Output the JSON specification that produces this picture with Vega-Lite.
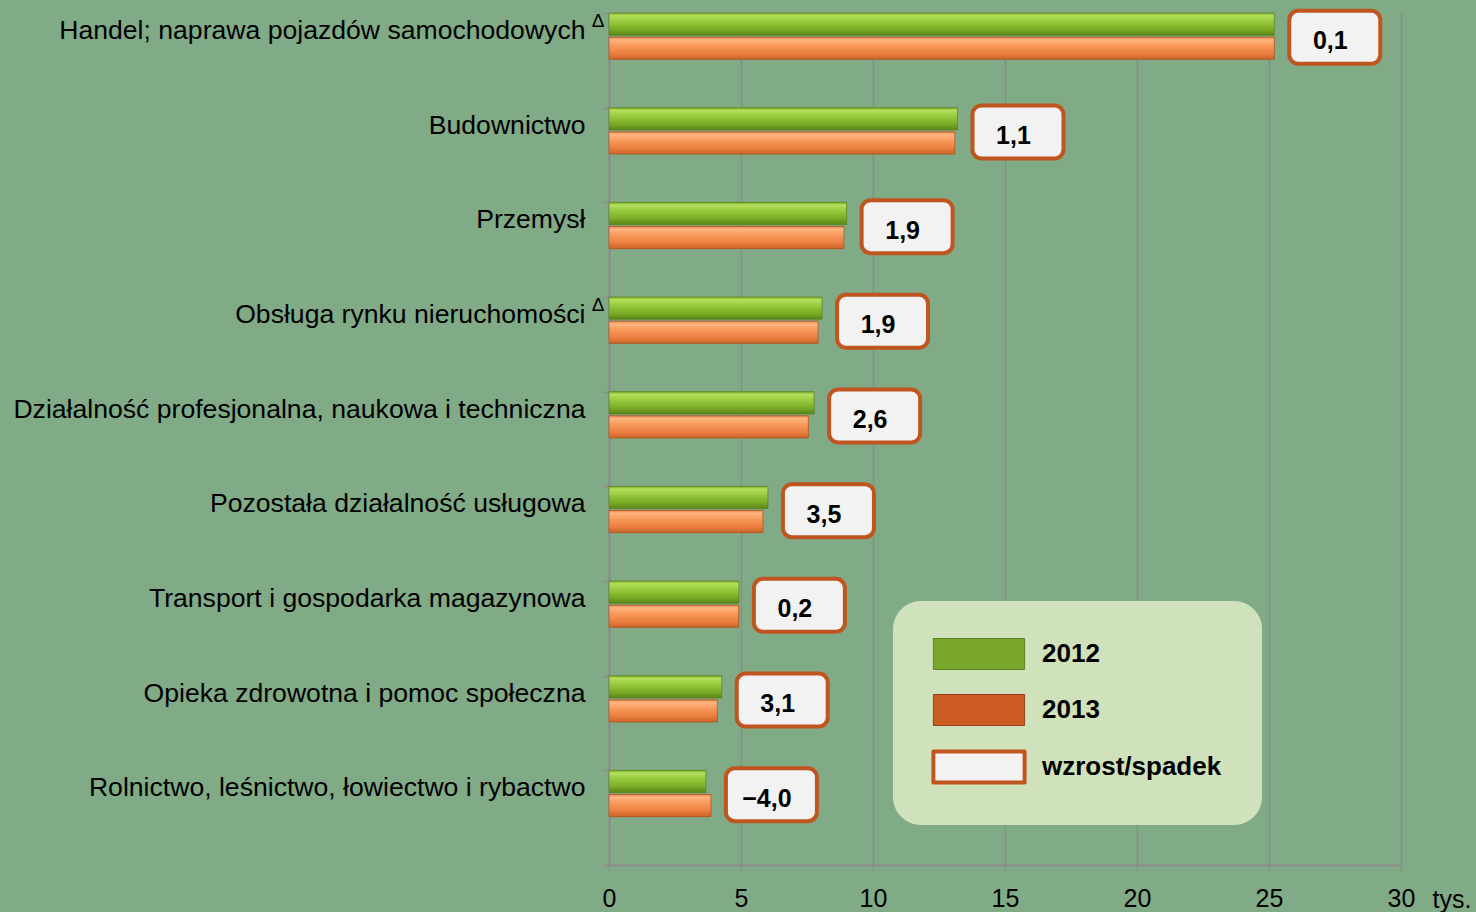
{
  "$schema": "https://vega.github.io/schema/vega-lite/v6.json",
  "width": 792,
  "height": 852,
  "autosize": {"type": "none"},
  "padding": {"left": 609, "top": 13, "right": 75, "bottom": 47},
  "background": "#81aa87",
  "config": {"view": {"stroke": null}, "font": "Liberation Sans"},
  "data": {"values": [
    {"cat": "Handel; naprawa pojazdów samochodowych", "year": "2012", "value": 25.2, "change": "0,1", "sup": "Δ"},
    {"cat": "Handel; naprawa pojazdów samochodowych", "year": "2013", "value": 25.2, "change": "0,1", "sup": "Δ"},
    {"cat": "Budownictwo", "year": "2012", "value": 13.2, "change": "1,1", "sup": ""},
    {"cat": "Budownictwo", "year": "2013", "value": 13.1, "change": "1,1", "sup": ""},
    {"cat": "Przemysł", "year": "2012", "value": 9.0, "change": "1,9", "sup": ""},
    {"cat": "Przemysł", "year": "2013", "value": 8.9, "change": "1,9", "sup": ""},
    {"cat": "Obsługa rynku nieruchomości", "year": "2012", "value": 8.07, "change": "1,9", "sup": "Δ"},
    {"cat": "Obsługa rynku nieruchomości", "year": "2013", "value": 7.92, "change": "1,9", "sup": "Δ"},
    {"cat": "Działalność profesjonalna, naukowa i techniczna", "year": "2012", "value": 7.77, "change": "2,6", "sup": ""},
    {"cat": "Działalność profesjonalna, naukowa i techniczna", "year": "2013", "value": 7.55, "change": "2,6", "sup": ""},
    {"cat": "Pozostała działalność usługowa", "year": "2012", "value": 6.02, "change": "3,5", "sup": ""},
    {"cat": "Pozostała działalność usługowa", "year": "2013", "value": 5.83, "change": "3,5", "sup": ""},
    {"cat": "Transport i gospodarka magazynowa", "year": "2012", "value": 4.92, "change": "0,2", "sup": ""},
    {"cat": "Transport i gospodarka magazynowa", "year": "2013", "value": 4.91, "change": "0,2", "sup": ""},
    {"cat": "Opieka zdrowotna i pomoc społeczna", "year": "2012", "value": 4.27, "change": "3,1", "sup": ""},
    {"cat": "Opieka zdrowotna i pomoc społeczna", "year": "2013", "value": 4.1, "change": "3,1", "sup": ""},
    {"cat": "Rolnictwo, leśnictwo, łowiectwo i rybactwo", "year": "2012", "value": 3.67, "change": "−4,0", "sup": ""},
    {"cat": "Rolnictwo, leśnictwo, łowiectwo i rybactwo", "year": "2013", "value": 3.86, "change": "−4,0", "sup": ""}
  ]},
  "encoding": {
    "y": {
      "field": "cat", "type": "nominal", "sort": null,
      "scale": {"paddingInner": 0, "paddingOuter": 0},
      "axis": {
        "title": null, "labelFontSize": 26.6, "labelLimit": 800, "labelColor": "#000000",
        "domainColor": "#8c8c8c", "domainWidth": 2, "tickColor": "#8c8c8c", "tickWidth": 1.5,
        "tickSize": 7, "tickBand": "extent", "labelPadding": 17,
        "labelBaseline": "alphabetic", "labelOffset": -22, "grid": false
      }
    }
  },
  "layer": [
    {
      "mark": {"type": "bar"},
      "encoding": {
        "x": {
          "field": "value", "type": "quantitative",
          "scale": {"domain": [0, 30], "nice": false},
          "axis": {
            "values": [0, 5, 10, 15, 20, 25, 30], "grid": true, "gridColor": "#868e88", "gridWidth": 1.5,
            "domainColor": "#8c8c8c", "domainWidth": 2, "tickColor": "#8c8c8c", "tickWidth": 1.5, "tickSize": 7,
            "labelFontSize": 25, "labelColor": "#000000", "labelPadding": 14, "labelFlush": false,
            "title": "tys.", "titleFontWeight": "normal", "titleFontSize": 25, "titleColor": "#000000",
            "titleX": 823, "titleY": 42, "titleAlign": "left", "titleBaseline": "alphabetic", "titleAngle": 0
          }
        },
        "yOffset": {
          "field": "year", "type": "nominal",
          "scale": {"paddingInner": 0.08, "paddingOuter": 1.0, "align": 0}
        },
        "color": {
          "field": "year", "type": "nominal",
          "scale": {"domain": ["2012", "2013", "wzrost/spadek"], "range": ["#7aa82a", "#cc5b22", "#f2f2f2"]},
          "legend": {
            "orient": "none", "legendX": 284, "legendY": 588, "title": null,
            "symbolType": "M -0.442 -0.544 H 2.758 V 0.544 H -0.442 Z",
            "symbolSize": 3249, "symbolOpacity": 1,
            "labelFontSize": 26, "labelFontWeight": "bold", "labelColor": "#000000", "labelOffset": 83,
            "labelLimit": 400,
            "padding": 40, "rowPadding": 22, "fillColor": "#d0e2bb", "cornerRadius": 28,
            "encode": {
              "symbols": {
                "update": {
                  "stroke": {"signal": "datum.value === 'wzrost/spadek' ? '#c0561f' : (datum.value === '2012' ? '#5d8420' : '#8f4219')"},
                  "strokeWidth": {"signal": "datum.value === 'wzrost/spadek' ? 4 : 1"},
                  "strokeJoin": {"value": "round"}
                }
              }
            }
          }
        }
      }
    },
    {
      "transform": [{"filter": "datum.year === '2012'"}],
      "mark": {
        "type": "bar", "stroke": "#5d8420", "strokeWidth": 1, "strokeOpacity": 0.7,
        "color": {"gradient": "linear", "x1": 0, "y1": 0, "x2": 0, "y2": 1, "stops": [
          {"offset": 0, "color": "#79a52a"}, {"offset": 0.12, "color": "#b4e05c"},
          {"offset": 0.38, "color": "#98cb3e"}, {"offset": 0.75, "color": "#78aa24"}, {"offset": 1, "color": "#5b8419"}
        ]}
      },
      "encoding": {
        "x": {"field": "value", "type": "quantitative"},
        "yOffset": {"field": "year", "type": "nominal"}
      }
    },
    {
      "transform": [{"filter": "datum.year === '2013'"}],
      "mark": {
        "type": "bar", "stroke": "#b0521e", "strokeWidth": 1, "strokeOpacity": 0.7,
        "color": {"gradient": "linear", "x1": 0, "y1": 0, "x2": 0, "y2": 1, "stops": [
          {"offset": 0, "color": "#e58a4f"}, {"offset": 0.12, "color": "#ffb582"},
          {"offset": 0.38, "color": "#f89a5c"}, {"offset": 0.75, "color": "#eb7d3e"}, {"offset": 1, "color": "#c8642a"}
        ]}
      },
      "encoding": {
        "x": {"field": "value", "type": "quantitative"},
        "yOffset": {"field": "year", "type": "nominal"}
      }
    },
    {
      "mark": {
        "type": "bar", "xOffset": 15, "x2Offset": 106, "height": 53, "yOffset": -23,
        "cornerRadius": 9, "fill": "#f2f2f2", "stroke": "#c0561f", "strokeWidth": 4
      },
      "encoding": {
        "x": {"aggregate": "max", "field": "value", "type": "quantitative"},
        "x2": {"aggregate": "max", "field": "value"}
      }
    },
    {
      "mark": {
        "type": "text", "dx": 56, "dy": -11, "align": "center", "baseline": "alphabetic",
        "fontSize": 25, "fontWeight": "bold", "color": "#000000"
      },
      "encoding": {
        "x": {"aggregate": "max", "field": "value", "type": "quantitative"},
        "text": {"field": "change", "type": "nominal"}
      }
    },
    {
      "transform": [{"filter": "datum.year === '2012' && datum.sup !== ''"}],
      "mark": {
        "type": "text", "dx": -11, "dy": -33, "align": "center", "baseline": "alphabetic",
        "fontSize": 19, "color": "#000000"
      },
      "encoding": {
        "x": {"datum": 0, "type": "quantitative"},
        "text": {"field": "sup", "type": "nominal"}
      }
    }
  ]
}
